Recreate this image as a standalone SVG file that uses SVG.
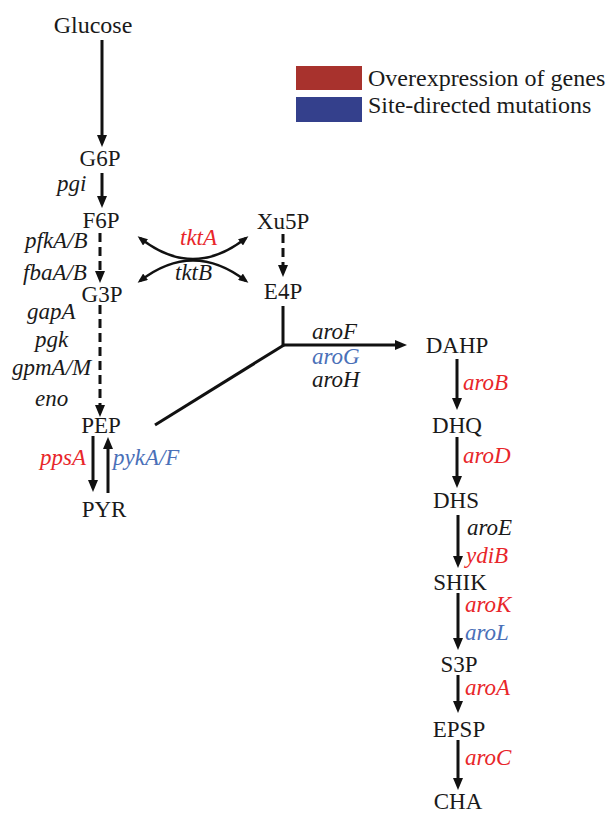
<svg xmlns="http://www.w3.org/2000/svg" width="609" height="814" viewBox="0 0 609 814">
  <style>
    text { font-family: "Liberation Serif", "Times New Roman", serif; font-size: 23px; fill: #1a1a1a; }
    .big { font-size: 24px; }
    .node { text-anchor: middle; }
    .gene { font-style: italic; }
    .up { fill: #e8262a; }
    .mut { fill: #4a70b8; }
    .flow { stroke: #111; stroke-width: 3; fill: none; }
    .dash { stroke-dasharray: 9 5; }
    .arr { marker-end: url(#head); }
    .tk { stroke: #111; stroke-width: 2.4; fill: none; marker-start: url(#small); marker-end: url(#small); }
  </style>
  <defs>
    <marker id="head" viewBox="0 0 12 10" refX="4" refY="5" markerWidth="12" markerHeight="10" markerUnits="userSpaceOnUse" orient="auto">
      <path d="M0,0 L12,5 L0,10 z" fill="#111"/>
    </marker>
    <marker id="small" viewBox="0 0 10 8" refX="7" refY="4" markerWidth="10" markerHeight="8" markerUnits="userSpaceOnUse" orient="auto-start-reverse">
      <path d="M0,0 L10,4 L0,8 z" fill="#111"/>
    </marker>
  </defs>

  <!-- legend -->
  <g id="legend">
    <rect x="296" y="66" width="66" height="24" fill="#a8322d"/>
    <rect x="296" y="97" width="66" height="25" fill="#34408c"/>
    <text class="big" x="368" y="86" font-family="Liberation Serif">Overexpression of genes</text>
    <text class="big" x="368" y="113" font-family="Liberation Serif">Site-directed mutations</text>
  </g>

  <!-- connectors -->
  <g id="connectors">
    <line class="flow arr" x1="102" y1="40" x2="102" y2="139"/>
    <line class="flow arr" x1="102" y1="173" x2="102" y2="200"/>
    <line class="flow dash arr" x1="100" y1="233" x2="100" y2="275"/>
    <line class="flow dash arr" x1="100" y1="305" x2="100" y2="409"/>
    <line class="flow arr" x1="93" y1="436" x2="93" y2="484"/>
    <line class="flow arr" x1="108" y1="493" x2="108" y2="445"/>
    <line class="flow dash arr" x1="283" y1="234" x2="283" y2="269"/>
    <path class="flow arr" d="M283,306 V345 H399"/>
    <line class="flow" x1="155" y1="425" x2="284" y2="345"/>
    <path class="tk" d="M140,238 Q193,280 246,238"/>
    <path class="tk" d="M140,281 Q193,240 246,281"/>
    <line class="flow arr" x1="457" y1="359" x2="457" y2="402"/>
    <line class="flow arr" x1="457" y1="437" x2="457" y2="480"/>
    <line class="flow arr" x1="458" y1="515" x2="458" y2="560"/>
    <line class="flow arr" x1="458" y1="593" x2="458" y2="642"/>
    <line class="flow arr" x1="458" y1="675" x2="458" y2="705"/>
    <line class="flow arr" x1="458" y1="740" x2="458" y2="782"/>
  </g>

  <!-- metabolites -->
  <g id="glucose"><text class="node big" x="93" y="33" font-family="Liberation Serif">Glucose</text></g>
  <g id="g6p"><text class="node" x="100" y="166" font-family="Liberation Serif">G6P</text></g>
  <g id="f6p"><text class="node" x="101" y="228" font-family="Liberation Serif">F6P</text></g>
  <g id="g3p"><text class="node" x="102" y="302" font-family="Liberation Serif">G3P</text></g>
  <g id="pep"><text class="node" x="101" y="433" font-family="Liberation Serif">PEP</text></g>
  <g id="pyr"><text class="node" x="104" y="517" font-family="Liberation Serif">PYR</text></g>
  <g id="xu5p"><text class="node" x="283" y="229" font-family="Liberation Serif">Xu5P</text></g>
  <g id="e4p"><text class="node" x="283" y="299" font-family="Liberation Serif">E4P</text></g>
  <g id="dahp"><text class="node" x="457" y="353" font-family="Liberation Serif">DAHP</text></g>
  <g id="dhq"><text class="node" x="457" y="433" font-family="Liberation Serif">DHQ</text></g>
  <g id="dhs"><text class="node" x="456" y="508" font-family="Liberation Serif">DHS</text></g>
  <g id="shik"><text class="node" x="460" y="590" font-family="Liberation Serif">SHIK</text></g>
  <g id="s3p"><text class="node" x="459" y="672" font-family="Liberation Serif">S3P</text></g>
  <g id="epsp"><text class="node" x="459" y="737" font-family="Liberation Serif">EPSP</text></g>
  <g id="cha"><text class="node" x="458" y="809" font-family="Liberation Serif">CHA</text></g>

  <!-- enzyme genes -->
  <g id="genes">
    <text class="gene" x="57" y="191" font-family="Liberation Serif">pgi</text>
    <text class="gene" x="25" y="248" font-family="Liberation Serif">pfkA/B</text>
    <text class="gene" x="23" y="280" font-family="Liberation Serif">fbaA/B</text>
    <text class="gene" x="27" y="319" font-family="Liberation Serif">gapA</text>
    <text class="gene" x="35" y="347" font-family="Liberation Serif">pgk</text>
    <text class="gene" x="12" y="375" font-family="Liberation Serif">gpmA/M</text>
    <text class="gene" x="35" y="406" font-family="Liberation Serif">eno</text>
    <text class="gene up" x="40" y="465" font-family="Liberation Serif">ppsA</text>
    <text class="gene mut" x="113" y="465" font-family="Liberation Serif">pykA/F</text>
    <text class="gene up" x="180" y="245" font-family="Liberation Serif">tktA</text>
    <text class="gene" x="175" y="280" font-family="Liberation Serif">tktB</text>
    <text class="gene" x="312" y="339" font-family="Liberation Serif">aroF</text>
    <text class="gene mut" x="312" y="364" font-family="Liberation Serif">aroG</text>
    <text class="gene" x="312" y="387" font-family="Liberation Serif">aroH</text>
    <text class="gene up" x="463" y="390" font-family="Liberation Serif">aroB</text>
    <text class="gene up" x="463" y="463" font-family="Liberation Serif">aroD</text>
    <text class="gene" x="467" y="535" font-family="Liberation Serif">aroE</text>
    <text class="gene up" x="466" y="563" font-family="Liberation Serif">ydiB</text>
    <text class="gene up" x="465" y="612" font-family="Liberation Serif">aroK</text>
    <text class="gene mut" x="465" y="640" font-family="Liberation Serif">aroL</text>
    <text class="gene up" x="465" y="695" font-family="Liberation Serif">aroA</text>
    <text class="gene up" x="465" y="765" font-family="Liberation Serif">aroC</text>
  </g>
</svg>
